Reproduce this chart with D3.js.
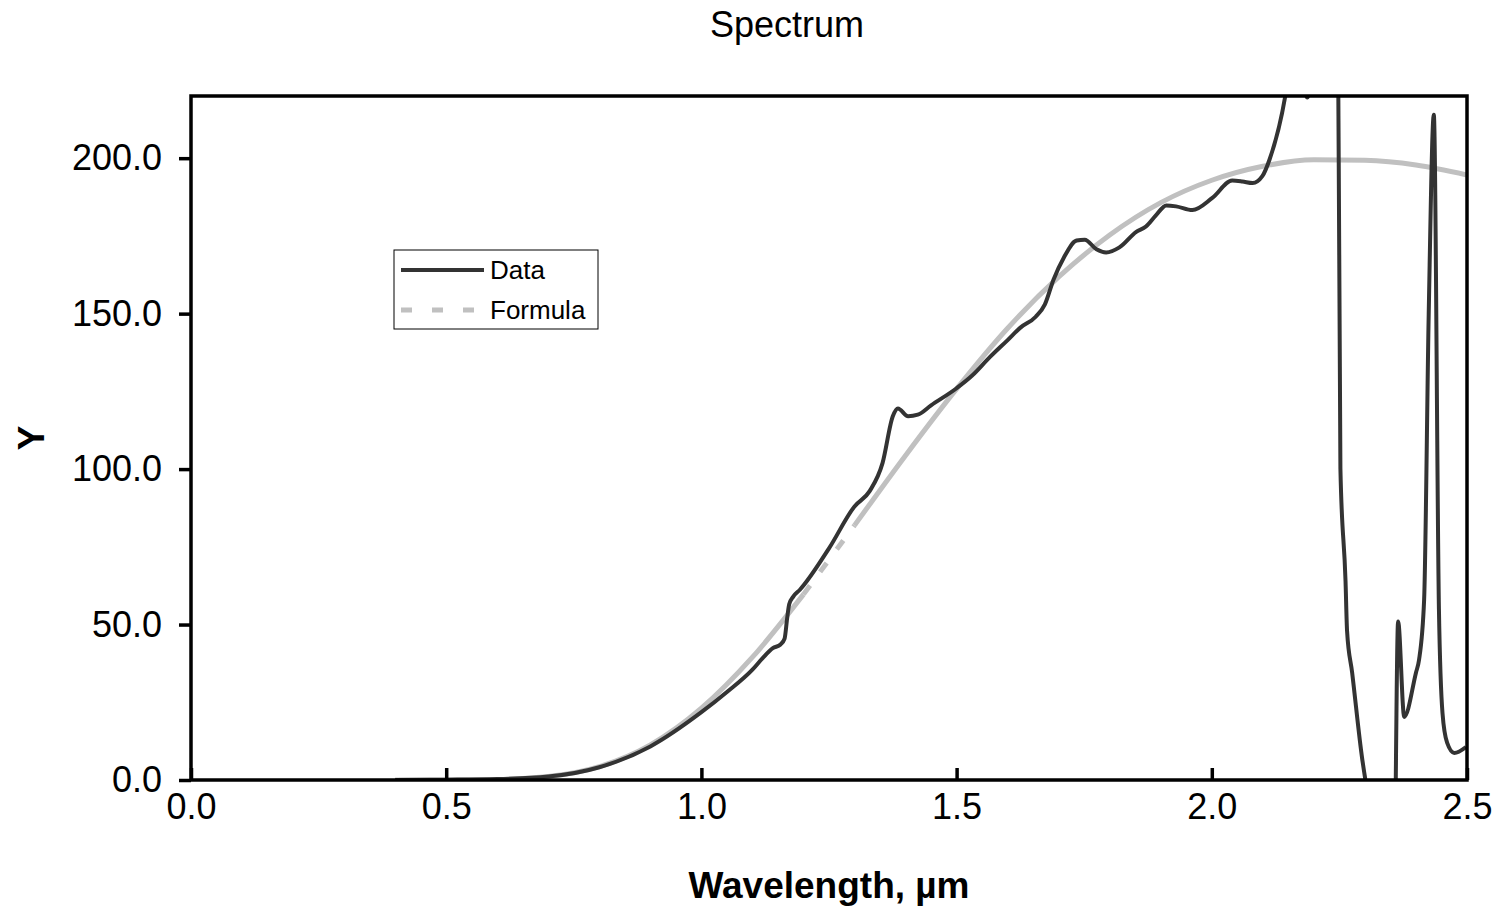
<!DOCTYPE html>
<html>
<head>
<meta charset="utf-8">
<script src="https://cdn.jsdelivr.net/npm/d3@7"></script>
<style>
  body { margin: 0; background: #fff; }
  text { font-family: "Liberation Sans", Arial, sans-serif; }
</style>
</head>
<body>
<svg id="chart-svg" width="1503" height="913"></svg>
<script>
// measured spectrum (µm, Y)
const dataWavelength = [0.40,0.50,0.60,0.70,0.80,0.90,1.00,1.05,1.10,1.12,1.14,1.155,1.163,1.168,1.172,1.18,1.193,
  1.25,1.30,1.33,1.355,1.375,1.385,1.405,1.424,1.45,1.50,1.53,1.565,1.60,1.625,1.655,1.673,1.69,1.71,1.735,1.751,
  1.774,1.793,1.819,1.852,1.871,1.89,1.911,1.93,1.962,2.001,2.04,2.06,2.08,2.099,2.113,2.145,2.165,2.187,2.21,2.245,
  2.252,2.262,2.265,2.275,2.295,2.30,2.315,2.345,2.356,2.365,2.377,2.40,2.406,2.416,2.425,2.435,2.445,2.452,2.461,2.475,2.498];
const dataValues = [0,0.1,0.3,1.1,4.1,10.8,21.8,28.3,35.5,39.2,42.4,43.6,45.5,52,56.5,59,61.2,
  74.5,88,93,102,117,119.5,117,117.5,120.5,126,130,136,141.5,145.5,149,153,161,168,173.5,173.8,
  170.7,169.7,171.3,176.3,178,181.5,184.8,184.5,183.3,187.2,192.8,192.5,192,194.2,199.5,221,245,219.5,250,300,
  100,64,48,34.5,6.4,1,-15,-15,-50,51,20.3,34.5,38.6,58,150,214,55,21.5,12,8.7,10.6];

// fitted formula curve
const formulaWavelength = [0.40,0.50,0.60,0.70,0.80,0.90,1.00,1.10,1.20,1.30,1.40,1.50,1.60,1.70,1.80,1.90,2.00,2.10,2.20,2.30,2.40,2.50];
const formulaValues = [0,0.01,0.17,1.1,4.3,11.3,23.1,39.5,59.7,81.9,104.4,125.8,145.3,161.8,175.3,185.7,192.9,197.4,199.5,199.3,197.8,194.6];

const xTicks = [0.0, 0.5, 1.0, 1.5, 2.0, 2.5];
const yTicks = [0, 50, 100, 150, 200];
const seriesNames = ["Data", "Formula"];

const margin = { top: 96, right: 36, bottom: 133, left: 191 };
const W = 1503, H = 913;
const width = W - margin.left - margin.right,
      height = H - margin.top - margin.bottom;

const svg = d3.select("#chart-svg");

const xScale = d3.scaleLinear().domain([0, 2.5]).range([0, width]);
const yScale = d3.scaleLinear().domain([0, 220]).range([height, 0]);

const g = svg.append("g").attr("transform", `translate(${margin.left},${margin.top})`);

svg.append("defs").append("clipPath").attr("id", "plot-clip")
  .append("rect").attr("x", 0).attr("y", 0).attr("width", width).attr("height", height);

// title
svg.append("text")
  .attr("x", 787).attr("y", 37)
  .attr("text-anchor", "middle")
  .style("font-size", "36px")
  .text("Spectrum");

// formula: solid, with the sparse stretch 1.2-1.3 shown dashed
const formulaPts = formulaWavelength.map((w, i) => ({ w, v: formulaValues[i] }));
const lineGen = d3.line().x(d => xScale(d.w)).y(d => yScale(d.v)).curve(d3.curveMonotoneX);
const plot = g.append("g").attr("clip-path", "url(#plot-clip)");

plot.append("path")
  .datum(formulaPts.filter(d => d.w <= 1.2))
  .attr("fill", "none").attr("stroke", "#c0c0c0").attr("stroke-width", 5)
  .attr("d", lineGen);
plot.append("path")
  .datum(formulaPts.filter(d => d.w >= 1.2 && d.w <= 1.3))
  .attr("fill", "none").attr("stroke", "#c0c0c0").attr("stroke-width", 5)
  .attr("stroke-dasharray", "11,17")
  .attr("d", d3.line().x(d => xScale(d.w)).y(d => yScale(d.v)));
plot.append("path")
  .datum(formulaPts.filter(d => d.w >= 1.3))
  .attr("fill", "none").attr("stroke", "#c0c0c0").attr("stroke-width", 5)
  .attr("d", lineGen);

// data line
plot.append("path")
  .datum(dataWavelength.map((w, i) => ({ w, v: dataValues[i] })))
  .attr("fill", "none").attr("stroke", "#333333").attr("stroke-width", 4)
  .attr("stroke-linejoin", "round")
  .attr("d", lineGen);

// plot border
g.append("rect")
  .attr("width", width).attr("height", height)
  .attr("fill", "none").attr("stroke", "#000").attr("stroke-width", 3.5);

// x axis: ticks inside
const xAxis = g.append("g")
  .attr("transform", `translate(0,${height})`)
  .call(d3.axisBottom(xScale).tickValues(xTicks).tickFormat(d3.format(".1f")).tickSizeInner(-12).tickSizeOuter(0).tickPadding(13));
xAxis.select(".domain").remove();
xAxis.selectAll("line").attr("stroke", "#000").attr("stroke-width", 3.5);
xAxis.selectAll("text").style("font-size", "36px").attr("fill", "#000")
  .attr("font-family", "Liberation Sans, Arial, sans-serif");

// y axis: ticks outside
const yAxis = g.append("g")
  .call(d3.axisLeft(yScale).tickValues(yTicks).tickFormat(d3.format(".1f")).tickSizeInner(12).tickSizeOuter(0).tickPadding(17));
yAxis.select(".domain").remove();
yAxis.selectAll("line").attr("stroke", "#000").attr("stroke-width", 3.5);
yAxis.selectAll("text").style("font-size", "36px").attr("fill", "#000")
  .attr("font-family", "Liberation Sans, Arial, sans-serif");

// axis titles
svg.append("text")
  .attr("x", margin.left + width / 2).attr("y", 898)
  .attr("text-anchor", "middle")
  .style("font-size", "37px").style("font-weight", "bold")
  .text("Wavelength, µm");

svg.append("text")
  .attr("transform", `translate(44,${margin.top + height / 2}) rotate(-90)`)
  .attr("text-anchor", "middle")
  .style("font-size", "37px").style("font-weight", "bold")
  .text("Y");

// legend
const legend = svg.append("g").attr("transform", "translate(394,250)");
legend.append("rect").attr("width", 204).attr("height", 79)
  .attr("fill", "#fff").attr("stroke", "#000").attr("stroke-width", 1);
const legendStyles = [
  { stroke: "#333333", width: 4, dash: null },
  { stroke: "#c0c0c0", width: 5, dash: "11,20" }
];
seriesNames.forEach((name, i) => {
  const row = legend.append("g").attr("transform", `translate(0,${20 + i * 40})`);
  row.append("line")
    .attr("x1", 7).attr("x2", 90).attr("y1", 0).attr("y2", 0)
    .attr("stroke", legendStyles[i].stroke)
    .attr("stroke-width", legendStyles[i].width)
    .attr("stroke-dasharray", legendStyles[i].dash);
  row.append("text")
    .attr("x", 96).attr("y", 9)
    .style("font-size", "26px")
    .text(name);
});
</script>
</body>
</html>
